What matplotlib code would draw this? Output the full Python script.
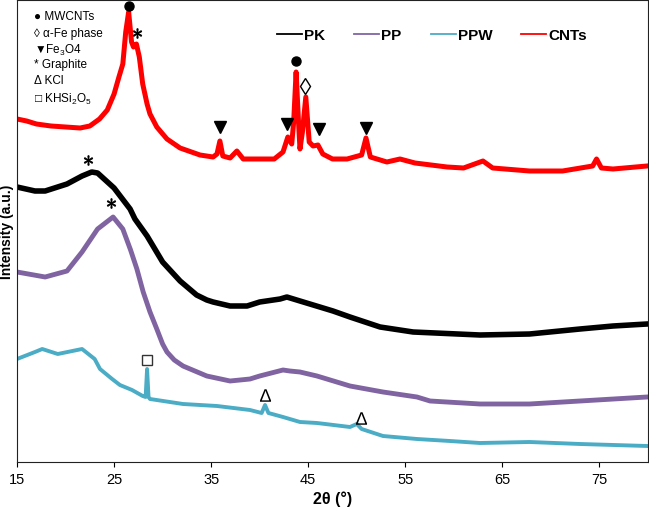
import matplotlib
matplotlib.use("Agg")
import matplotlib.pyplot as plt
from matplotlib.lines import Line2D
from matplotlib.font_manager import FontProperties

plt.rcParams['font.family'] = ['Liberation Sans', 'DejaVu Sans']
plt.rcParams['mathtext.fontset'] = 'custom'
plt.rcParams['mathtext.rm'] = 'Liberation Sans'
plt.rcParams['mathtext.it'] = 'Liberation Sans:italic'
plt.rcParams['mathtext.bf'] = 'Liberation Sans:bold'

# ---------------- data (2theta in degrees, intensity in arbitrary units, offset stacked) ----
cnt_x = [15.0, 16.0, 17.0, 18.5, 20.0, 21.5, 22.5, 23.5, 24.3, 25.0, 25.5, 25.9, 26.2, 26.5,
         26.8, 27.0, 27.3, 27.6, 27.95, 28.4, 28.7, 29.4, 30.45, 31.8, 33.85, 35.2, 35.6, 35.9,
         36.2, 36.95, 37.65, 38.3, 40.0, 41.5, 42.4, 42.9, 43.3, 43.5, 43.75, 44.0, 44.15, 44.4,
         44.75, 45.1, 45.5, 46.0, 46.5, 47.5, 49.0, 50.5, 50.95, 51.4, 53.1, 54.45, 56.0, 59.3,
         61.0, 63.0, 64.0, 67.8, 71.2, 74.3, 74.7, 75.2, 76.4, 79.9]
cnt_y = [343, 341, 338, 336, 335, 334, 336, 343, 352, 368, 385, 398, 430, 450,
         420, 415, 418, 405, 378, 358, 348, 335, 323, 314, 307, 305, 308, 321,
         306, 304, 311, 303, 303, 303, 310, 325, 318, 340, 390, 340, 313, 330,
         365, 320, 316, 317, 308, 303, 303, 307, 324, 305, 300, 303, 299, 295,
         294, 301, 294, 291, 291, 296, 303, 294, 293, 296]

pk_x = [15.0, 16.85, 17.9, 20.15, 21.7, 22.7, 23.3, 25.0, 26.65, 27.15, 28.4, 30.0,
        31.8, 33.5, 34.55, 35.2, 36.95, 38.7, 40.0, 42.1, 42.8, 44.15, 47.55, 49.3,
        52.4, 55.8, 62.7, 67.8, 73.0, 76.4, 79.9]
pk_y = [275, 271, 271, 278, 286, 290, 289, 274, 253, 243, 226, 200,
        181, 167, 162, 160, 156, 156, 160, 163, 165, 161, 151, 145,
        135, 130, 127, 128, 133, 136, 138]

pp_x = [15.0, 17.9, 20.15, 21.7, 23.3, 24.9, 25.9, 26.7, 27.35, 28.0, 28.7, 29.4, 30.0,
        30.45, 31.2, 32.1, 34.55, 36.95, 39.0, 40.0, 42.4, 43.1, 44.15, 45.9, 49.3, 52.7,
        56.2, 57.55, 62.7, 67.8, 73.0, 79.9]
pp_y = [190, 185, 191, 210, 233, 245, 233, 212, 193, 170, 150, 133, 118,
        110, 102, 96, 86, 81, 83, 86, 92, 91, 90, 86, 76, 70,
        65, 61, 58, 58, 61, 65]

ppw_x = [15.0, 16.85, 17.6, 19.2, 21.7, 23.0, 23.55, 24.8, 25.6, 26.85, 27.95, 28.25, 28.4,
         28.55, 28.7, 32.1, 35.6, 39.0, 40.2, 40.55, 40.9, 42.4, 44.15, 45.9, 49.3, 50.0,
         50.5, 52.7, 56.2, 59.6, 62.7, 67.8, 73.0, 79.9]
ppw_y = [103, 110, 113, 108, 113, 103, 93, 83, 77, 72, 66, 65, 93,
         65, 63, 58, 56, 52, 49, 57, 49, 45, 40, 39, 35, 38,
         33, 26, 23, 21, 19, 20, 18, 16]

series_names = ['PK', 'PP', 'PPW', 'CNTs']
series_colors = ['#000000', '#8064A2', '#4BACC6', '#FF0000']

# peak markers (2theta, intensity)
mwcnt_x, mwcnt_y = [26.55, 43.75], [456, 401]
fe_x, fe_y = [44.65], [376]
fe3o4_x, fe3o4_y = [35.9, 42.8, 46.1, 50.95], [335, 338, 333, 334]
graph_x, graph_y = [27.35, 22.3, 24.7], [429, 302, 259]
kcl_x, kcl_y = [40.55, 50.4], [67, 44]
khs_x, khs_y = [28.4], [102]

key_labels = ['\u25CF MWCNTs', '\u25CA \u03B1-Fe phase', '\u25BCFe$_3$O4',
              '* Graphite', '\u0394 KCl', '\u25A1 KHSi$_2$O$_5$']

xticks = [15, 25, 35, 45, 55, 65, 75]

# ---------------- figure ----------------
fig = plt.figure(figsize=(6.49, 5.10), dpi=100)
ax = fig.add_axes([17/649, 47/510, 631/649, 462/510])

ax.plot(pk_x, pk_y, color=series_colors[0], lw=4.0, solid_joinstyle='round', zorder=2)
ax.plot(pp_x, pp_y, color=series_colors[1], lw=3.5, solid_joinstyle='round', zorder=2)
ax.plot(ppw_x, ppw_y, color=series_colors[2], lw=2.8, solid_joinstyle='round', zorder=2)
ax.plot(cnt_x, cnt_y, color=series_colors[3], lw=3.6, solid_joinstyle='round', zorder=2)

mk = dict(ls='none', zorder=5, color='black')
ax.plot(mwcnt_x, mwcnt_y, marker='o', ms=6.5, **mk)
ax.plot(fe_x, fe_y, marker='d', ms=8, mfc='white', mec='black', mew=1.0, ls='none', zorder=5)
ax.plot(fe3o4_x, fe3o4_y, marker='v', ms=8.5, **mk)
ax.plot(graph_x, graph_y, marker=r'$\ast$', ms=7, mew=0.6, **mk)
ax.plot(kcl_x, kcl_y, marker=r'$\Delta$', ms=9, mew=0, **mk)
ax.plot(khs_x, khs_y, marker='s', ms=7, mfc='white', mec='#333333', mew=1.0, ls='none', zorder=5)

ax.set_xlim(15, 80)
ax.set_ylim(0, 462)
ax.set_xticks(xticks)
ax.set_yticks([])
ax.tick_params(axis='x', direction='out', length=3.5, width=0.8, pad=4, labelsize=10.5)
for s in ax.spines.values():
    s.set_linewidth(0.8)
    s.set_color('#222222')

ax.set_xlabel('2\u03B8 (\u00B0)', fontsize=11.5, fontweight='bold', labelpad=3)
ax.set_ylabel('Intensity (a.u.)', fontsize=10, fontweight='bold')
ax.yaxis.set_label_coords(-0.005, 0.5)

handles = [Line2D([], [], color=c, lw=1.3) for c in series_colors]
ax.legend(handles, series_names, ncol=4, loc='center left',
          bbox_to_anchor=((277 - 17) / 631, (462 - 35) / 462),
          frameon=False, borderaxespad=0, borderpad=0, handlelength=1.65,
          handletextpad=0.12, columnspacing=1.9,
          prop=FontProperties(family=['Liberation Sans', 'DejaVu Sans'], weight='bold', size=11))

key_ys = [16, 33, 49, 64, 80, 98]
for lab, py in zip(key_labels, key_ys):
    ax.text((34 - 17) / 631, (462 - py) / 462, lab, transform=ax.transAxes,
            ha='left', va='center', fontsize=8.5)

fig.savefig('out.png', dpi=100)
